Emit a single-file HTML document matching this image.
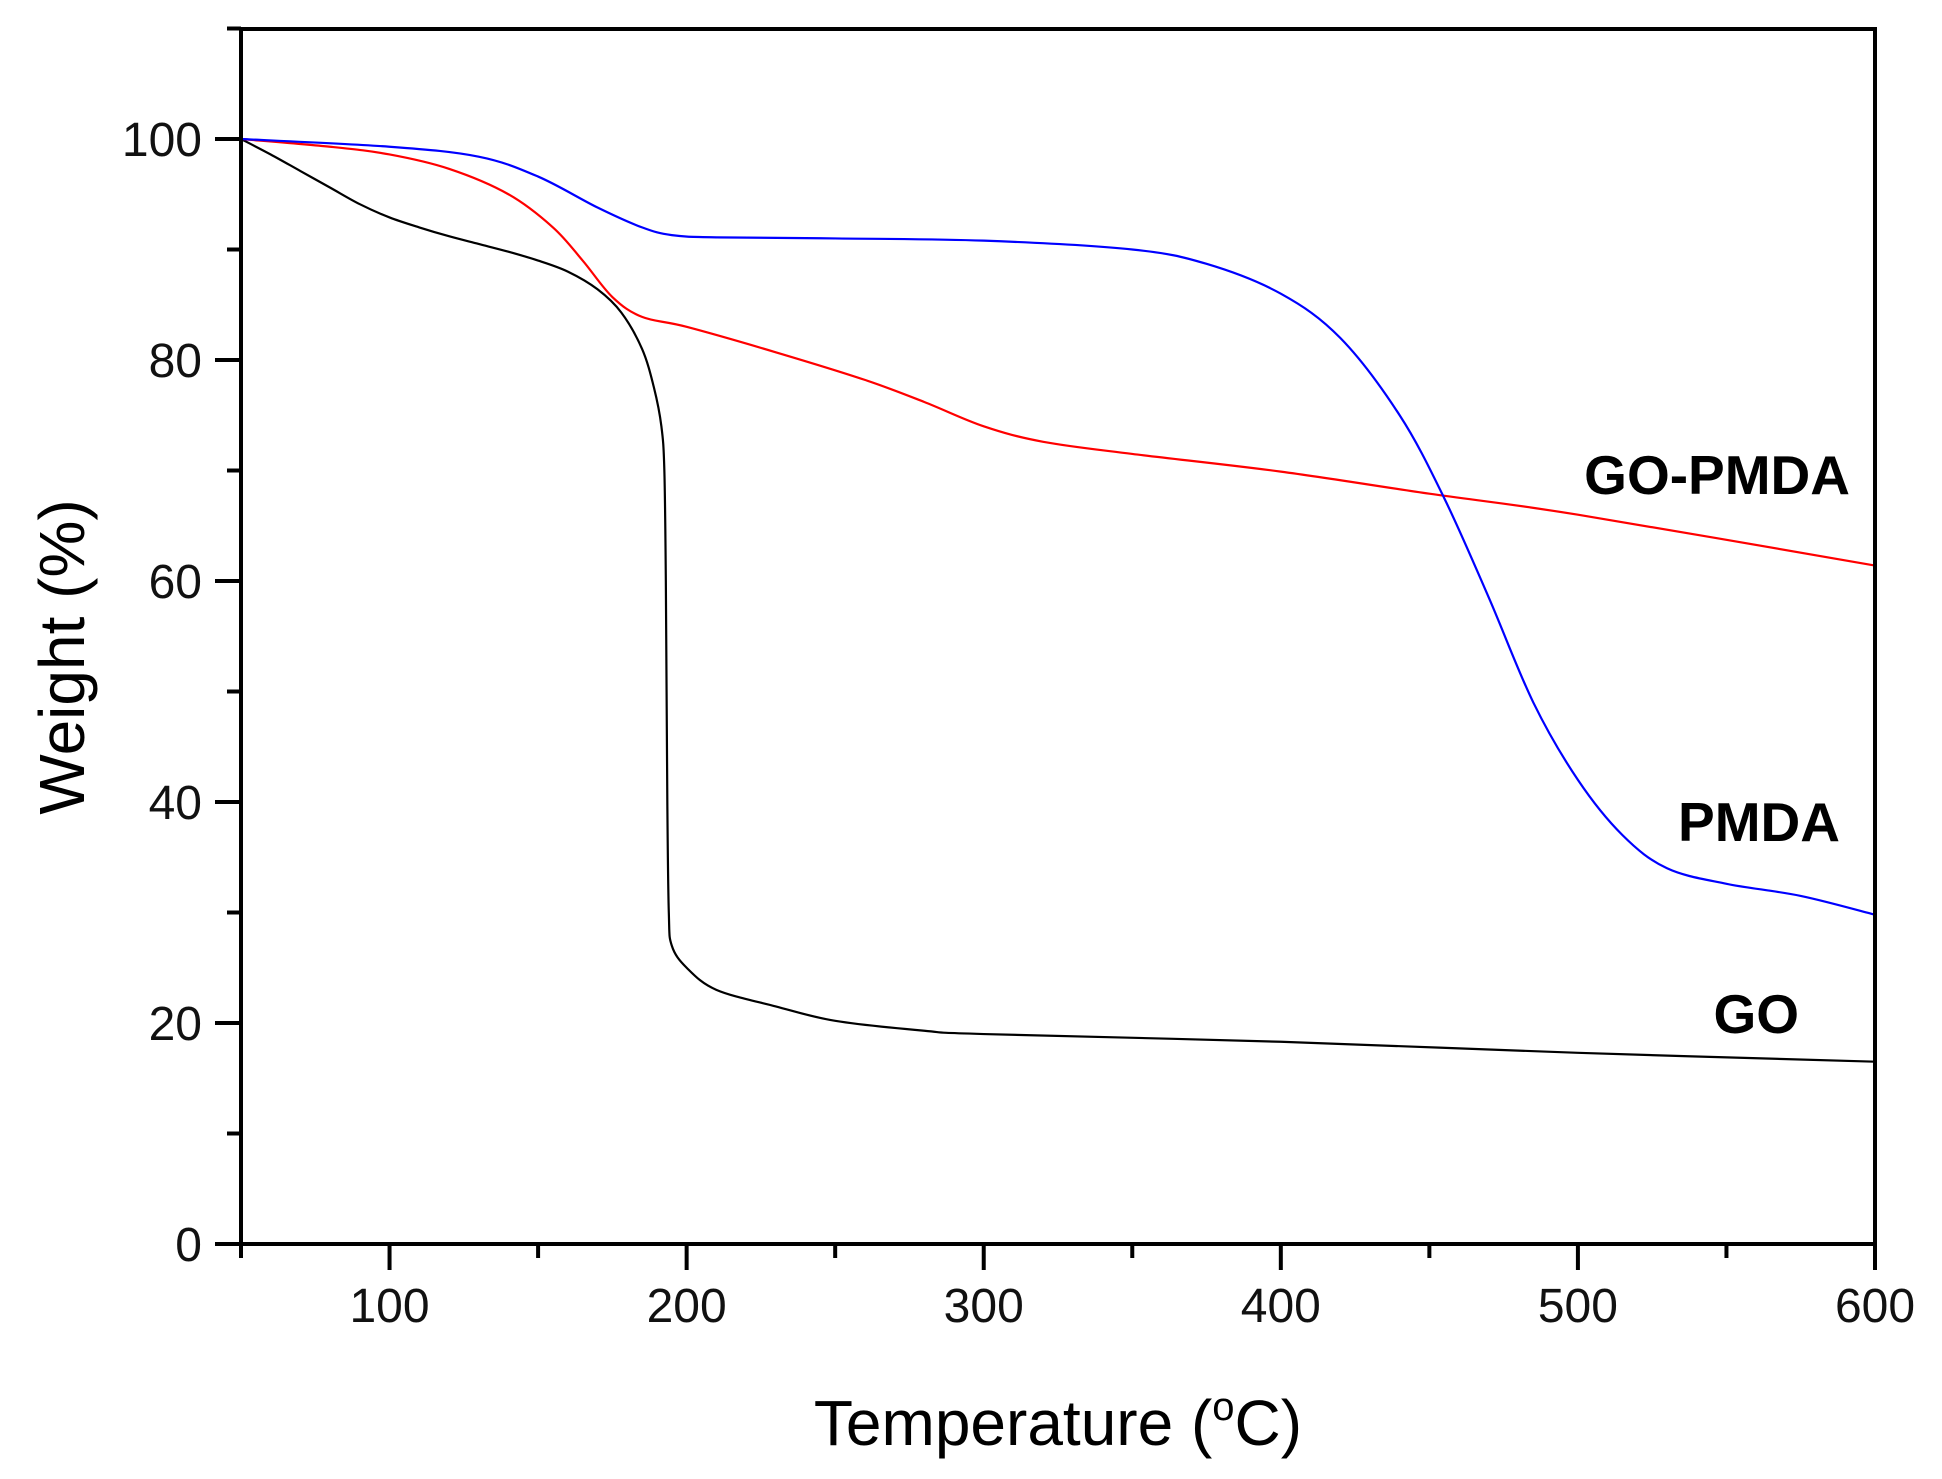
<!DOCTYPE html>
<html><head><meta charset="utf-8"><style>
html,body{margin:0;padding:0;background:#fff;}
svg{display:block;font-family:"Liberation Sans",Arial,sans-serif;}
</style></head><body>
<svg id="s" width="1942" height="1479" viewBox="0 0 1942 1479" xmlns="http://www.w3.org/2000/svg">
<rect width="1942" height="1479" fill="#fff"/>
<g id="curves" fill="none" stroke-width="2.2" stroke-linejoin="round"></g>
<rect x="241" y="29" width="1634" height="1215" fill="none" stroke="#000" stroke-width="4"/>
<g id="ticks" stroke="#000" stroke-width="4"></g>
<g id="labels" font-size="48" fill="#111"></g>
<text x="1850" y="494" font-size="55" font-weight="bold" text-anchor="end">GO-PMDA</text>
<text x="1840" y="841" font-size="55" font-weight="bold" text-anchor="end">PMDA</text>
<text x="1799" y="1033" font-size="55" font-weight="bold" text-anchor="end">GO</text>
<text x="1058" y="1445" font-size="64" text-anchor="middle">Temperature (<tspan font-size="40" dy="-25">o</tspan><tspan dy="25">C)</tspan></text>
<text transform="translate(84,657) rotate(-90)" font-size="64" text-anchor="middle">Weight (%)</text>
</svg>
<script>
var X=function(t){return 241+(t-50)*1634/550;};
var Y=function(v){return 1244-v*11.05;};
var ns="http://www.w3.org/2000/svg";
function path(pts,color){
  var p=pts.map(function(a){return [X(a[0]),Y(a[1])];});
  var d="M"+p[0][0]+","+p[0][1];
  for(var i=0;i<p.length-1;i++){
    var p0=p[i-1]||p[i],p1=p[i],p2=p[i+1],p3=p[i+2]||p[i+1];
    var c1x=p1[0]+(p2[0]-p0[0])/6,c1y=p1[1]+(p2[1]-p0[1])/6;
    var c2x=p2[0]-(p3[0]-p1[0])/6,c2y=p2[1]-(p3[1]-p1[1])/6;
    d+=" C"+c1x+","+c1y+" "+c2x+","+c2y+" "+p2[0]+","+p2[1];
  }
  var e=document.createElementNS(ns,"path");e.setAttribute("d",d);e.setAttribute("stroke",color);
  document.getElementById("curves").appendChild(e);
}
path([[50,100],[60,98.6],[70,97.1],[80,95.6],[90,94.1],[100,92.9],[110,92],[120,91.2],[130,90.5],[140,89.8],[150,89],[160,88],[170,86.4],[178,84.3],[185,81],[189,77.5],[191.5,74],[192.5,70],[193,60],[193.5,40],[194,30],[195,27],[200,25],[210,23],[230,21.5],[250,20.2],[280,19.3],[300,19],[400,18.3],[500,17.3],[600,16.5]],"#000");
path([[50,100],[80,99.3],[100,98.6],[120,97.3],[140,95],[155,92],[165,89],[175,85.7],[185,83.9],[200,83],[230,80.7],[260,78.2],[280,76.2],[300,74],[320,72.6],[350,71.5],[400,69.9],[450,67.9],[500,66],[600,61.4]],"#f00");
path([[50,100],[100,99.3],[130,98.4],[150,96.6],[170,93.8],[185,92],[195,91.3],[210,91.1],[250,91],[300,90.8],[350,90],[375,88.7],[400,86],[420,82],[440,75],[455,67.5],[470,58.5],[485,49],[500,42],[515,37],[530,34],[550,32.6],[575,31.5],[600,29.8]],"#00f");
var t=document.getElementById("ticks"),L=document.getElementById("labels");
function line(x1,y1,x2,y2){var e=document.createElementNS(ns,"line");e.setAttribute("x1",x1);e.setAttribute("y1",y1);e.setAttribute("x2",x2);e.setAttribute("y2",y2);t.appendChild(e);}
function txt(x,y,s,a){var e=document.createElementNS(ns,"text");e.setAttribute("x",x);e.setAttribute("y",y);e.setAttribute("text-anchor",a);e.textContent=s;L.appendChild(e);}
for(var v=0;v<=110;v+=10){var y=Y(v);var maj=v%20==0;line(241,y,maj?215:227,y);if(maj)txt(202,y+17,String(v),"end");}
for(var x=50;x<=600;x+=50){var xx=X(x);var maj=x%100==0;line(xx,1244,xx,maj?1270:1258);if(maj)txt(xx,1322,String(x),"middle");}
</script>
</body></html>
